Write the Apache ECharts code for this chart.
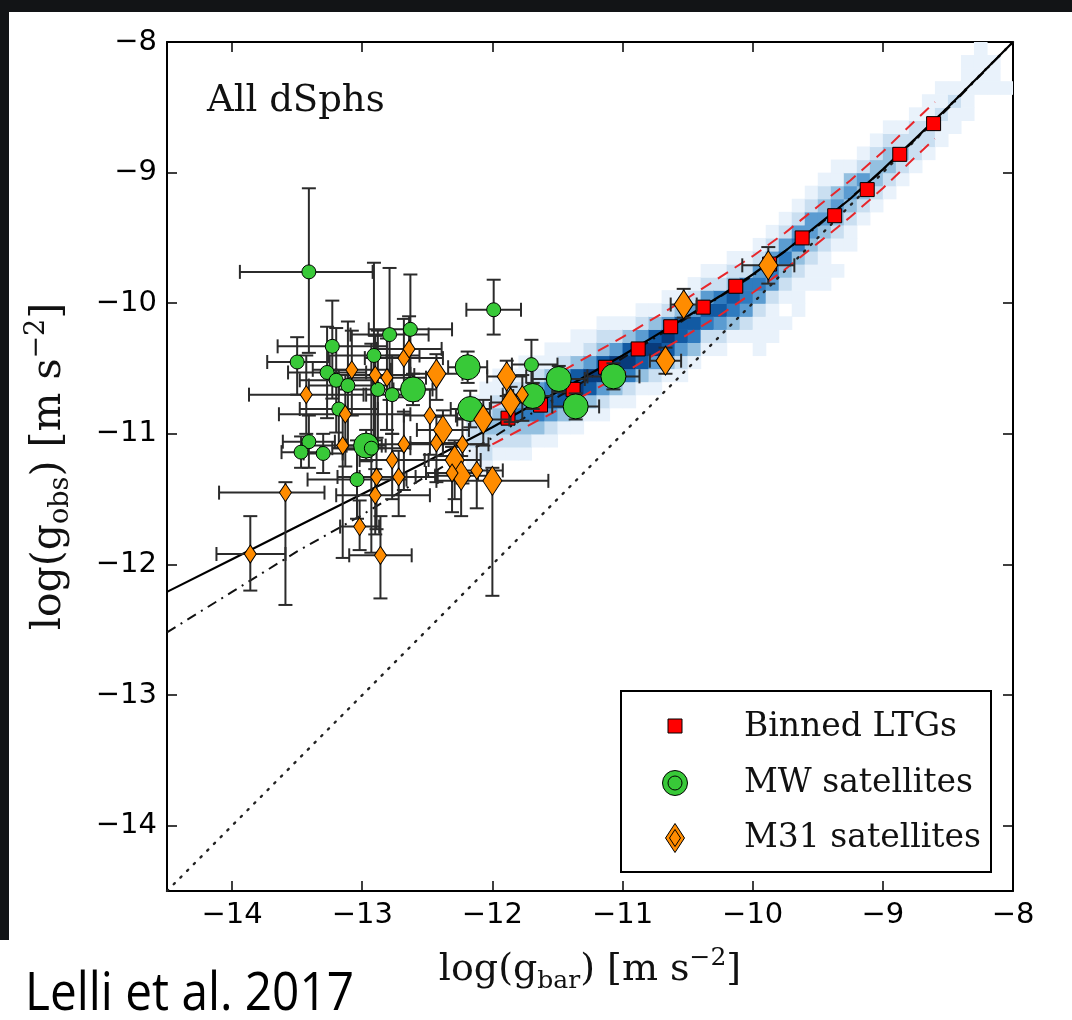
<!DOCTYPE html>
<html><head><meta charset="utf-8">
<script src="https://cdn.jsdelivr.net/npm/echarts@6/dist/echarts.min.js"></script>
<style>html,body{margin:0;padding:0;background:#fff}#c{width:1072px;height:1020px}</style>
</head><body><div id="c"></div>
<script>
// ---------- tick labels ----------
const xTickVals = [-14, -13, -12, -11, -10, -9, -8];
const yTickVals = [-14, -13, -12, -11, -10, -9, -8];
const xTickLabels = ['−14', '−13', '−12', '−11', '−10', '−9', '−8'];
const yTickLabels = ['−14', '−13', '−12', '−11', '−10', '−9', '−8'];

// ---------- binned LTGs (red squares) ----------
const ltgX = [-8.61, -8.87, -9.12, -9.37, -9.62, -9.87, -10.13, -10.38, -10.63, -10.88, -11.13, -11.38, -11.63, -11.88];
const ltgY = [-8.625, -8.86, -9.13, -9.33, -9.50, -9.70, -9.87, -10.03, -10.18, -10.35, -10.49, -10.66, -10.78, -10.88];

// ---------- MW satellites ----------
const mwX   = [-13.41, -11.99, -13.23, -13.50, -13.27, -13.20, -13.11, -12.91, -12.79, -12.63, -12.88, -12.77, -13.18, -13.41, -13.47, -13.30, -13.04, -11.70, -12.93, -12.19, -12.61, -12.17, -12.97, -11.69, -11.49, -11.07, -11.36];
const mwY   = [-9.76, -10.05, -10.33, -10.45, -10.53, -10.59, -10.63, -10.40, -10.24, -10.20, -10.66, -10.70, -10.81, -11.06, -11.14, -11.15, -11.35, -10.47, -11.11, -10.49, -10.66, -10.81, -11.09, -10.71, -10.58, -10.56, -10.79];
const mwXLo = [0.53, 0.21, 0.42, 0.23, 0.30, 0.28, 0.30, 0.35, 0.30, 0.32, 0.30, 0.20, 0.30, 0.20, 0.15, 0.15, 0.38, 0.15, 0.30, 0.15, 0.15, 0.15, 0.15, 0.15, 0.20, 0.20, 0.18];
const mwXHi = [0.49, 0.21, 0.42, 0.25, 0.30, 0.28, 0.30, 0.35, 0.30, 0.32, 0.30, 0.20, 0.30, 0.20, 0.15, 0.15, 0.38, 0.20, 0.30, 0.15, 0.15, 0.15, 0.15, 0.15, 0.20, 0.20, 0.18];
const mwYLo = [0.62, 0.19, 0.40, 0.25, 0.35, 0.40, 0.49, 0.71, 0.50, 0.42, 0.45, 0.30, 0.30, 0.20, 0.12, 0.15, 0.30, 0.19, 0.80, 0.12, 0.12, 0.14, 0.12, 0.10, 0.10, 0.10, 0.10];
const mwYHi = [0.64, 0.23, 0.35, 0.19, 0.35, 0.40, 0.49, 0.71, 0.51, 0.42, 0.45, 0.30, 0.30, 0.20, 0.12, 0.15, 0.30, 0.19, 0.80, 0.12, 0.12, 0.14, 0.12, 0.10, 0.10, 0.10, 0.10];
const mwBig = [0,0,0,0,0,0,0,0,0,0,0,0,0,0,0,0,0,0,0, 1,1,1,1,1,1,1,1];

// ---------- M31 satellites ----------
const m31X   = [-13.86, -13.59, -13.43, -13.13, -13.08, -12.90, -12.81, -12.68, -12.64, -13.15, -12.68, -12.77, -12.89, -12.72, -12.90, -13.02, -12.86, -12.48, -12.43, -12.23, -12.12, -12.31, -11.77, -12.43, -12.38, -12.07, -11.89, -11.86, -12.29, -12.24, -12.00, -10.53, -10.67, -9.88];
const m31Y   = [-11.92, -11.45, -10.70, -10.85, -10.51, -10.55, -10.57, -10.42, -10.35, -11.09, -11.08, -11.20, -11.33, -11.33, -11.47, -11.71, -11.93, -10.86, -11.07, -11.08, -11.28, -11.30, -10.70, -10.54, -10.97, -10.89, -10.56, -10.76, -11.20, -11.32, -11.36, -10.01, -10.44, -9.71];
const m31XLo = [0.26, 0.51, 0.44, 0.51, 0.30, 0.30, 0.30, 0.30, 0.25, 0.30, 0.30, 0.25, 0.30, 0.30, 0.30, 0.15, 0.24, 0.20, 0.20, 0.20, 0.20, 0.20, 0.15, 0.20, 0.20, 0.20, 0.15, 0.15, 0.20, 0.20, 0.43, 0.10, 0.12, 0.20];
const m31XHi = [0.27, 0.30, 0.44, 0.50, 0.30, 0.30, 0.30, 0.30, 0.25, 0.30, 0.30, 0.25, 0.30, 0.30, 0.42, 0.15, 0.24, 0.20, 0.20, 0.20, 0.20, 0.20, 0.15, 0.20, 0.20, 0.20, 0.15, 0.15, 0.20, 0.20, 0.43, 0.10, 0.12, 0.20];
const m31YLo = [0.28, 0.86, 0.30, 0.40, 0.35, 0.50, 0.40, 0.30, 0.30, 0.86, 0.35, 0.30, 0.40, 0.30, 0.30, 0.18, 0.33, 0.30, 0.30, 0.30, 0.29, 0.30, 0.20, 0.20, 0.20, 0.20, 0.15, 0.15, 0.30, 0.31, 0.88, 0.10, 0.10, 0.14];
const m31YHi = [0.29, 0.08, 0.30, 0.30, 0.30, 0.30, 0.30, 0.30, 0.25, 0.25, 0.25, 0.20, 0.30, 0.20, 0.20, 0.20, 0.30, 0.20, 0.20, 0.20, 0.20, 0.20, 0.15, 0.15, 0.15, 0.15, 0.12, 0.12, 0.15, 0.15, 0.10, 0.12, 0.10, 0.14];
const m31Big = [0,0,0,0,0,0,0,0,0,0,0,0,0,0,0,0,0,0,0,0,0,0,0, 1,1,1,1,1,1,1,1,1,1,1];

// ---------- curves ----------
const rarX = [-14.5, -14, -13.5, -13, -12.5, -12, -11.75, -11.5, -11.25, -11, -10.75, -10.5, -10.25, -10, -9.75, -9.5, -9.25, -9, -8.75, -8.5, -8.25, -8];
const rarY = [-12.21, -11.96, -11.71, -11.46, -11.21, -10.95, -10.81, -10.68, -10.54, -10.40, -10.25, -10.10, -9.945, -9.78, -9.60, -9.40, -9.20, -8.975, -8.74, -8.50, -8.25, -8.00];
const efeX = [-14.5, -14, -13.5, -13, -12.5, -12, -11.5, -11, -10.5, -10, -9.5, -9, -8.5, -8];
const efeY = [-12.52, -12.21, -11.90, -11.62, -11.32, -11.03, -10.72, -10.42, -10.11, -9.79, -9.41, -8.98, -8.51, -8.0];
const bandX   = [-12, -11.75, -11.5, -11.25, -11, -10.75, -10.5, -10.25, -10, -9.75, -9.5, -9.25, -9, -8.75, -8.6];
const bandUpY = [-10.80, -10.67, -10.54, -10.40, -10.26, -10.11, -9.96, -9.80, -9.64, -9.46, -9.26, -9.06, -8.84, -8.60, -8.46];
const bandLoY = [-11.08, -10.95, -10.82, -10.68, -10.54, -10.39, -10.24, -10.09, -9.92, -9.74, -9.54, -9.34, -9.12, -8.88, -8.74];
const oneX = [-14.5, -8];
const oneY = [-14.5, -8];

// ---------- 2D histogram of individual points (column left edge, lowest row, shade levels upward) ----------
const histX0 = [-12.2, -12.1, -12.0, -11.9, -11.8, -11.7, -11.6, -11.5, -11.4, -11.3, -11.2, -11.1, -11.0, -10.9, -10.8, -10.7, -10.6, -10.5, -10.4, -10.3, -10.2, -10.1, -10.0, -9.9, -9.8, -9.7, -9.6, -9.5, -9.4, -9.3, -9.2, -9.1, -9.0, -8.9, -8.8, -8.7, -8.6, -8.5, -8.4, -8.3, -8.2, -8.1];
const histY0 = [-11.3, -11.3, -11.2, -11.2, -11.2, -11.1, -11.1, -11.0, -11.0, -10.9, -10.9, -10.8, -10.8, -10.7, -10.7, -10.6, -10.6, -10.5, -10.4, -10.4, -10.3, -10.3, -10.4, -10.3, -10.2, -10.1, -10.0, -9.9, -9.8, -9.7, -9.4, -9.3, -9.2, -9.1, -9.0, -8.9, -8.8, -8.7, -8.6, -8.5, -8.4, -8.4];
const histLevels = [
  [1,1,2,2,1,1], [1,2,2,3,2,1,1], [1,2,3,3,2,1,1], [1,2,3,5,3,2,1], [1,2,3,5,4,2,1,1],
  [1,3,5,6,4,2,1], [1,2,4,6,5,3,1,1], [1,3,6,7,4,2,1], [1,2,4,7,6,3,1,1], [1,3,6,7,4,2,1],
  [1,2,4,7,6,3,2,1], [1,3,6,7,4,2,1], [1,2,5,7,6,3,1], [1,3,6,7,4,2,1], [1,2,4,7,6,3,1],
  [1,3,6,7,4,2,1], [1,2,4,6,6,3,1], [1,3,5,6,4,2,1], [1,2,5,6,4,2,1], [1,2,4,6,5,2,1],
  [1,3,5,6,3,2,1], [1,2,4,5,5,2,1], [1,1,1,2,4,5,4,2,1], [1,1,1,2,4,5,4,2,1], [1,0,1,2,3,5,4,2,1],
  [1,1,1,2,3,5,4,2,1], [0,1,1,2,3,4,4,2,1], [1,1,1,2,3,4,3,2,1], [1,0,1,2,3,4,3,1,1], [0,1,1,2,3,4,3,1],
  [1,2,3,4,2,1], [1,2,3,3,2,1], [1,2,3,3,2,1], [1,2,3,2,1], [1,2,2,2,1],
  [1,2,2,1,1], [1,1,2,1,1], [1,1,2,1], [1,1,1,1,1], [0,1,1,1,1], [1,1,1], [1]
];

// ---------- build series data ----------
const BIN = 0.1;
const histColors = ['#ffffff', '#e9f2fb', '#cadff1', '#94c0e0', '#5b9cd1', '#2f7bbf', '#125aa3', '#083b7c'];
const histData = [];
histX0.forEach((x0, i) => {
  histLevels[i].forEach((lv, j) => {
    if (lv > 0) histData.push([x0, +(histY0[i] + j * BIN).toFixed(2), lv]);
  });
});
const zip = (X, Y) => X.map((x, i) => [x, Y[i]]);
const errData = (X, Y, XL, XH, YL, YH) => X.map((x, i) => [x, Y[i], XL[i], XH[i], YL[i], YH[i]]);
const pick = (X, Y, F, f) => X.map((x, i) => [x, Y[i], F[i]]).filter(d => d[2] === f).map(d => [d[0], d[1]]);

function renderCell(params, api) {
  const x0 = api.value(0), y0 = api.value(1), lv = api.value(2);
  const a = api.coord([x0, y0 + BIN]), b = api.coord([x0 + BIN, y0]);
  return { type: 'rect', shape: { x: a[0], y: a[1], width: b[0] - a[0] + 0.6, height: b[1] - a[1] + 0.6 },
           style: { fill: histColors[lv] } };
}
function renderErr(params, api) {
  const x = api.value(0), y = api.value(1);
  const L = api.coord([x - api.value(2), y]), R = api.coord([x + api.value(3), y]);
  const B = api.coord([x, y - api.value(4)]), T = api.coord([x, y + api.value(5)]);
  const cap = 7;
  const st = { stroke: '#2b2b2b', lineWidth: 2 };
  const ln = (x1, y1, x2, y2) => ({ type: 'line', shape: { x1, y1, x2, y2 }, style: st });
  return { type: 'group', children: [
    ln(L[0], L[1], R[0], R[1]), ln(T[0], T[1], B[0], B[1]),
    ln(L[0], L[1] - cap, L[0], L[1] + cap), ln(R[0], R[1] - cap, R[0], R[1] + cap),
    ln(T[0] - cap, T[1], T[0] + cap, T[1]), ln(B[0] - cap, B[1], B[0] + cap, B[1])
  ] };
}

const GREEN = '#38c938', ORANGE = '#ff8c00', RED = '#ff0000';
const serif = 'DejaVu Serif';

const axisCommon = {
  type: 'value', min: -14.5, max: -8,
  splitLine: { show: false },
  axisLine: { onZero: false, lineStyle: { color: '#000', width: 2 } },
  axisTick: { inside: true, length: 10, lineStyle: { color: '#000', width: 1.5 } },
};
const richFor = (fs, sfs) => ({
  t: { fontFamily: serif, fontSize: fs, color: '#111', lineHeight: fs + 10 },
  s: { fontFamily: serif, fontSize: sfs, color: '#111', padding: [Math.round(fs * 0.58), 0, 0, 0] },
  p: { fontFamily: serif, fontSize: sfs, color: '#111', padding: [0, 0, Math.round(fs * 0.62), 0] }
});

const chart = echarts.init(document.getElementById('c'));
chart.setOption({
  animation: false,
  backgroundColor: '#ffffff',
  grid: { left: 167, top: 42, right: 59, bottom: 129, containLabel: false },
  xAxis: [
    Object.assign({}, axisCommon, {
      position: 'bottom',
      axisTick: Object.assign({}, axisCommon.axisTick, { customValues: xTickVals }),
      axisLabel: { customValues: xTickVals, formatter: v => xTickLabels[xTickVals.indexOf(v)] || '',
                   fontFamily: 'DejaVu Sans', fontSize: 29, color: '#000', margin: 10 },
      name: '{t|log(g}{s|bar}{t|) [m s}{p|−2}{t|]}', nameLocation: 'middle', nameGap: 55,
      nameTextStyle: { rich: richFor(38, 25) }
    }),
    Object.assign({}, axisCommon, {
      position: 'top',
      axisTick: Object.assign({}, axisCommon.axisTick, { customValues: xTickVals }),
      axisLabel: { show: false }
    })
  ],
  yAxis: [
    Object.assign({}, axisCommon, {
      position: 'left',
      axisTick: Object.assign({}, axisCommon.axisTick, { customValues: yTickVals }),
      axisLabel: { customValues: yTickVals, formatter: v => yTickLabels[yTickVals.indexOf(v)] || '',
                   fontFamily: 'DejaVu Sans', fontSize: 29, color: '#000', margin: 10 },
      name: '{t|log(g}{s|obs}{t|) [m s}{p|−2}{t|]}', nameLocation: 'middle', nameGap: 92, nameRotate: 90,
      nameTextStyle: { rich: richFor(41, 27) }
    }),
    Object.assign({}, axisCommon, {
      position: 'right',
      axisTick: Object.assign({}, axisCommon.axisTick, { customValues: yTickVals }),
      axisLabel: { show: false }
    })
  ],
  series: [
    { type: 'custom', name: 'hist', renderItem: renderCell, data: histData, encode: { x: 0, y: 1 }, z: 1, clip: true, silent: true },
    { type: 'line', data: zip(oneX, oneY), showSymbol: false, z: 2, clip: true,
      lineStyle: { color: '#222', width: 2.4, type: [1.5, 8], cap: 'round' } },
    { type: 'line', data: zip(efeX, efeY), showSymbol: false, z: 2, clip: true,
      lineStyle: { color: '#111', width: 2, type: [10, 6, 2, 6] } },
    { type: 'line', data: zip(rarX, rarY), showSymbol: false, z: 3, clip: true,
      lineStyle: { color: '#000', width: 2.2 } },
    { type: 'line', data: zip(bandX, bandUpY), showSymbol: false, z: 3, clip: true,
      lineStyle: { color: '#e8262a', width: 2, type: [12, 8] } },
    { type: 'line', data: zip(bandX, bandLoY), showSymbol: false, z: 3, clip: true,
      lineStyle: { color: '#e8262a', width: 2, type: [12, 8] } },
    { type: 'scatter', name: 'Binned LTGs', data: zip(ltgX, ltgY), symbol: 'rect', symbolSize: 14, z: 4,
      itemStyle: { color: RED, borderColor: '#000', borderWidth: 1, opacity: 1 } },
    { type: 'custom', renderItem: renderErr, data: errData(mwX, mwY, mwXLo, mwXHi, mwYLo, mwYHi), encode: { x: 0, y: 1 }, z: 5, clip: true },
    { type: 'custom', renderItem: renderErr, data: errData(m31X, m31Y, m31XLo, m31XHi, m31YLo, m31YHi), encode: { x: 0, y: 1 }, z: 5, clip: true },
    { type: 'scatter', name: 'MW satellites', data: pick(mwX, mwY, mwBig, 1), symbol: 'circle', symbolSize: 25, z: 6,
      itemStyle: { color: GREEN, borderColor: '#000', borderWidth: 1, opacity: 1 } },
    { type: 'scatter', name: 'MW satellites', data: pick(mwX, mwY, mwBig, 0), symbol: 'circle', symbolSize: 14, z: 6,
      itemStyle: { color: GREEN, borderColor: '#000', borderWidth: 1, opacity: 1 } },
    { type: 'scatter', name: 'M31 satellites', data: pick(m31X, m31Y, m31Big, 1), symbol: 'diamond', symbolSize: [19, 29], z: 7,
      itemStyle: { color: ORANGE, borderColor: '#000', borderWidth: 1, opacity: 1 } },
    { type: 'scatter', name: 'M31 satellites', data: pick(m31X, m31Y, m31Big, 0), symbol: 'diamond', symbolSize: [12, 18], z: 7,
      itemStyle: { color: ORANGE, borderColor: '#000', borderWidth: 1, opacity: 1 } }
  ],
  graphic: [
    { type: 'rect', shape: { x: 0, y: 0, width: 1072, height: 12 }, style: { fill: '#121416' }, z: 200 },
    { type: 'rect', shape: { x: 0, y: 0, width: 9, height: 940 }, style: { fill: '#121416' }, z: 200 },
    { type: 'text', x: 207, y: 101, style: { text: 'All dSphs', font: '37px "DejaVu Serif"', fill: '#111', verticalAlign: 'middle' }, z: 100 },
    { type: 'rect', shape: { x: 621, y: 691, width: 370, height: 181 }, style: { fill: '#fff', stroke: '#000', lineWidth: 2 }, z: 100 },
    { type: 'rect', shape: { x: 668, y: 719, width: 14, height: 14 }, style: { fill: RED, stroke: '#000', lineWidth: 1 }, z: 101 },
    { type: 'circle', shape: { cx: 675, cy: 783, r: 12.5 }, style: { fill: GREEN, stroke: '#000', lineWidth: 1 }, z: 101 },
    { type: 'circle', shape: { cx: 675, cy: 783, r: 7 }, style: { fill: GREEN, stroke: '#000', lineWidth: 1 }, z: 102 },
    { type: 'polygon', shape: { points: [[675, 823.5], [684.5, 838], [675, 852.5], [665.5, 838]] }, style: { fill: ORANGE, stroke: '#000', lineWidth: 1 }, z: 101 },
    { type: 'polygon', shape: { points: [[675, 829.5], [680.5, 838], [675, 846.5], [669.5, 838]] }, style: { fill: ORANGE, stroke: '#000', lineWidth: 1 }, z: 102 },
    { type: 'text', x: 744, y: 727, style: { text: 'Binned LTGs', font: '33px "DejaVu Serif"', fill: '#111', verticalAlign: 'middle' }, z: 101 },
    { type: 'text', x: 744, y: 783, style: { text: 'MW satellites', font: '33px "DejaVu Serif"', fill: '#111', verticalAlign: 'middle' }, z: 101 },
    { type: 'text', x: 744, y: 838, style: { text: 'M31 satellites', font: '33px "DejaVu Serif"', fill: '#111', verticalAlign: 'middle' }, z: 101 },
    { type: 'text', x: 25, y: 995, scaleX: 0.9, style: { text: 'Lelli et al. 2017', font: '53px "Open Sans"', fill: '#000', verticalAlign: 'middle' }, z: 101 }
  ]
});
</script></body></html>
